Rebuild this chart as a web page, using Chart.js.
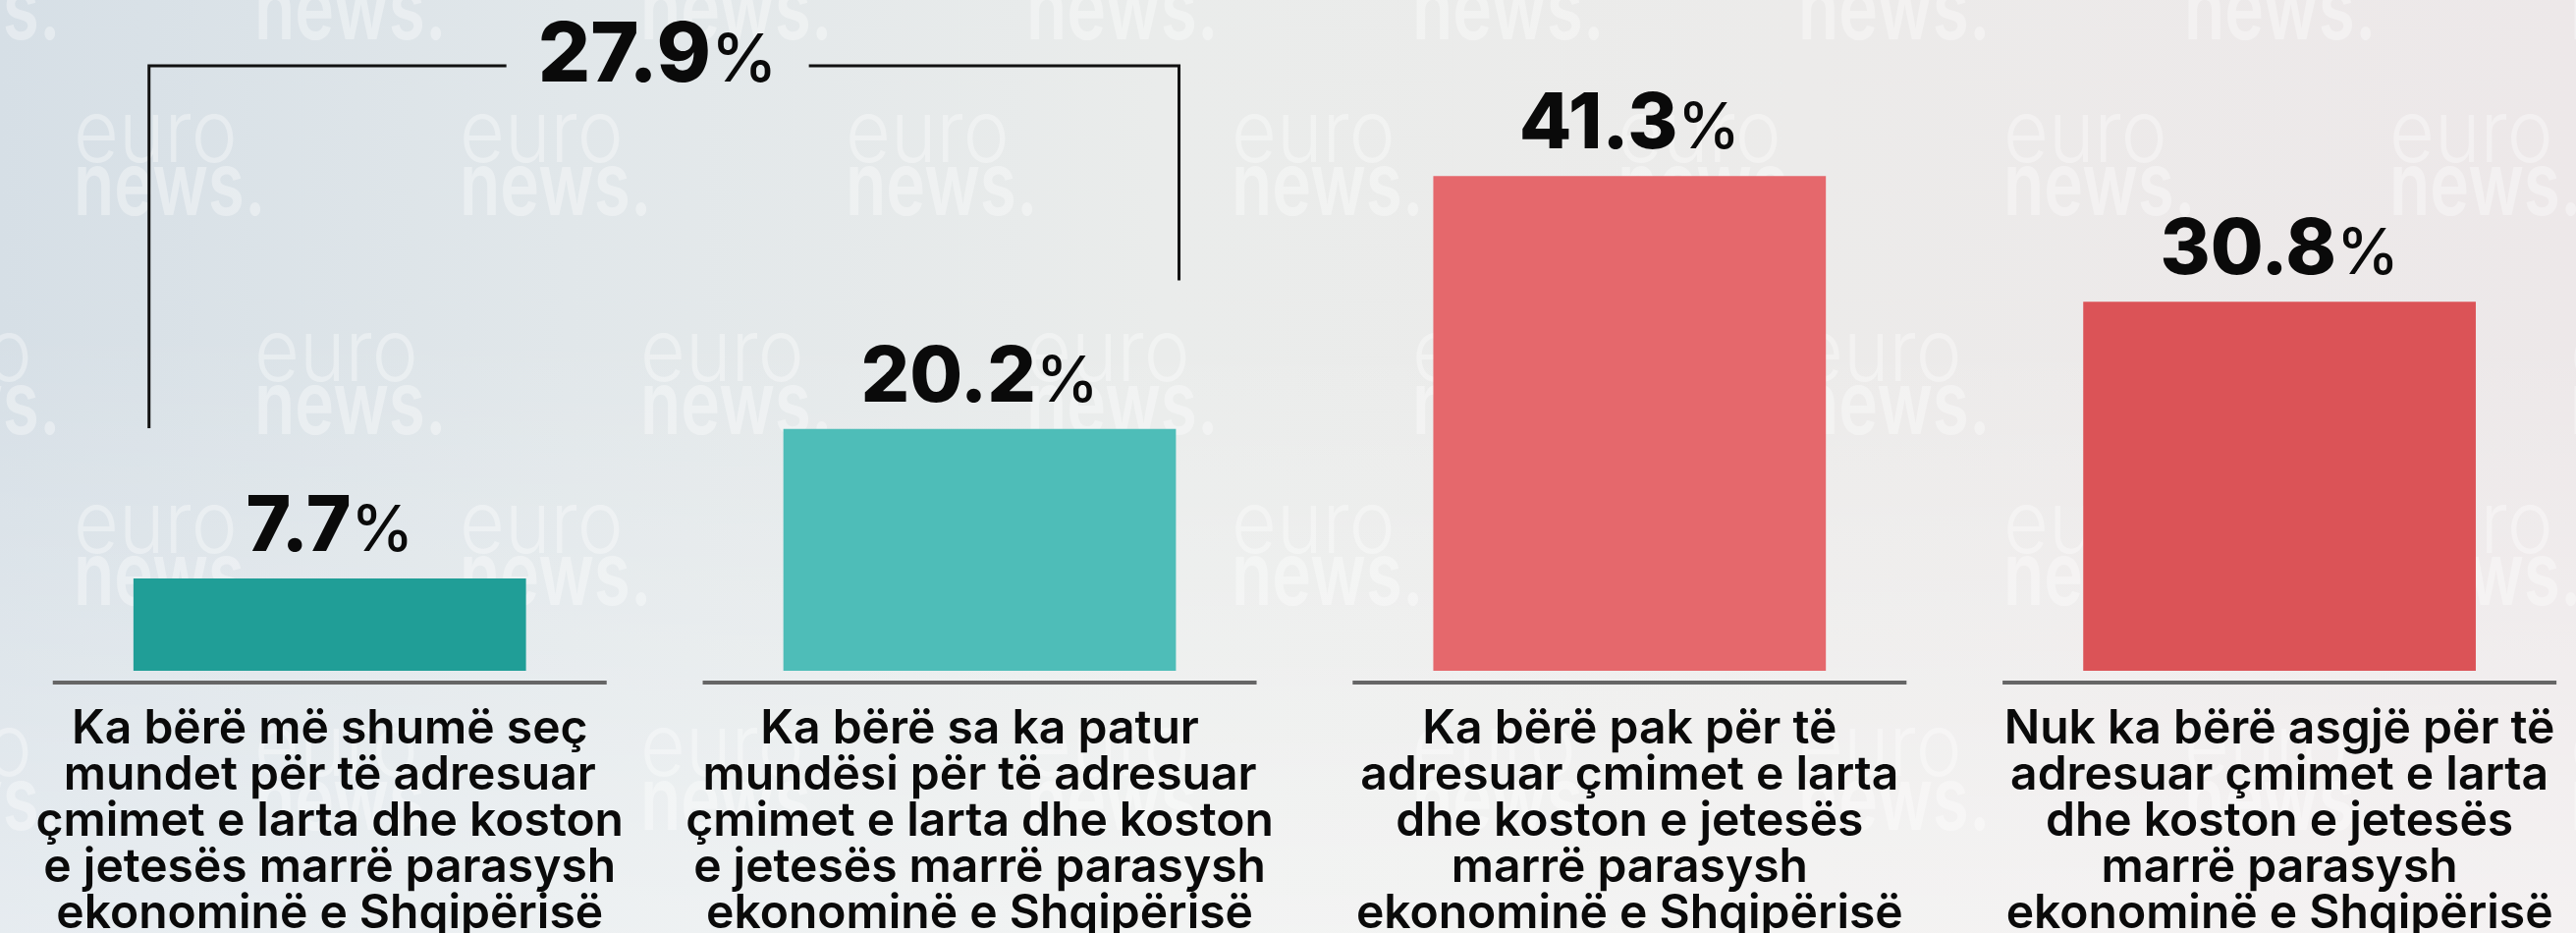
<!DOCTYPE html>
<html lang="sq">
<head>
<meta charset="utf-8">
<title>Çmimet e larta dhe kostoja e jetesës</title>
<script src="https://cdn.jsdelivr.net/npm/chart.js@4/dist/chart.umd.min.js"></script>
<style>
  html, body { margin: 0; padding: 0; overflow: hidden; }
  body {
    width: 2623px; height: 950px;
    background:
      linear-gradient(180deg, rgba(255,255,255,0) 35%, rgba(255,255,255,0.4) 100%),
      linear-gradient(90deg, #d6dfe6 0%, #e1e7ea 22%, #eaeceb 45%, #ecebea 70%, #ede8e9 100%);
  }
  #wrap { width: 2623px; height: 950px; overflow: hidden; }
</style>
</head>
<body>
<div id="wrap"><canvas id="grafico" width="2652" height="950"></canvas></div>
<script>
// ── Data ──────────────────────────────────────
const categories = [
  ['Ka bërë më shumë seç', 'mundet për të adresuar', 'çmimet e larta dhe koston', 'e jetesës marrë parasysh', 'ekonominë e Shqipërisë'],
  ['Ka bërë sa ka patur', 'mundësi për të adresuar', 'çmimet e larta dhe koston', 'e jetesës marrë parasysh', 'ekonominë e Shqipërisë'],
  ['Ka bërë pak për të', 'adresuar çmimet e larta', 'dhe koston e jetesës', 'marrë parasysh', 'ekonominë e Shqipërisë'],
  ['Nuk ka bërë asgjë për të', 'adresuar çmimet e larta', 'dhe koston e jetesës', 'marrë parasysh', 'ekonominë e Shqipërisë']
]
const values     = [7.7, 20.2, 41.3, 30.8]
const barColors  = ['#209e97', '#4ebdb8', '#e5686c', '#db5357']
// bracket groups the first two answers
const groupIdx   = [0, 1]

const FONT = "'Inter', 'Noto Sans', sans-serif"

// ── Faint channel watermark behind the chart ──
const watermark = {
  id: 'watermark',
  beforeDraw(chart) {
    const { ctx } = chart
    // [euro baseline, news baseline, first column x]
    const rows = [[-14, 40, 259], [165, 219, 75], [388, 442, 259], [563, 616, 75], [790, 845, 259]]
    ctx.save()
    ctx.fillStyle = 'rgba(255,255,255,0.36)'
    ctx.textBaseline = 'alphabetic'
    rows.forEach(([yEuro, yNews, x0]) => {
      for (let x = x0 - 393; x < 2700; x += 393) {
        ctx.save()
        ctx.translate(x, yEuro)
        ctx.scale(0.9, 1)
        ctx.font = `300 88px ${FONT}`
        ctx.fillText('euro', 0, 0)
        ctx.restore()
        ctx.save()
        ctx.translate(x, yNews)
        ctx.scale(0.75, 1)
        ctx.font = `600 90px ${FONT}`
        ctx.fillText('news.', 0, 0)
        ctx.restore()
      }
    })
    ctx.restore()
  }
}

// ── Value labels: number bold + smaller % ─────
function drawPercent(ctx, text, cx, baseline, bigSize, smallSize) {
  ctx.save()
  ctx.fillStyle = '#0a0a0a'
  ctx.textBaseline = 'alphabetic'
  ctx.textAlign = 'left'
  ctx.font = `800 ${bigSize}px ${FONT}`
  const wNum = ctx.measureText(text).width
  ctx.font = `500 ${smallSize}px ${FONT}`
  const wPct = ctx.measureText('%').width
  const x0 = cx - (wNum + wPct) / 2
  ctx.font = `800 ${bigSize}px ${FONT}`
  ctx.fillText(text, x0, baseline)
  ctx.font = `500 ${smallSize}px ${FONT}`
  ctx.fillText('%', x0 + wNum, baseline)
  ctx.restore()
}

const valueLabels = {
  id: 'valueLabels',
  afterDatasetsDraw(chart) {
    const { ctx } = chart
    chart.getDatasetMeta(0).data.forEach((bar, i) => {
      drawPercent(ctx, values[i].toFixed(1), bar.x, bar.y - 28, 78, 64)
    })
  }
}

// ── Gray underline under each bar ─────────────
const baseLines = {
  id: 'baseLines',
  afterDatasetsDraw(chart) {
    const { ctx, chartArea, scales: { x } } = chart
    ctx.save()
    ctx.strokeStyle = '#666666'
    ctx.lineWidth = 4
    categories.forEach((c, i) => {
      const cx = x.getPixelForValue(i)
      ctx.beginPath()
      ctx.moveTo(cx - 282, chartArea.bottom + 12)
      ctx.lineTo(cx + 282, chartArea.bottom + 12)
      ctx.stroke()
    })
    ctx.restore()
  }
}

// ── Bracket with the combined share ───────────
const bracket = {
  id: 'bracket',
  afterDatasetsDraw(chart) {
    const { ctx, scales: { x, y } } = chart
    const xa = x.getPixelForValue(groupIdx[0]) - 184
    const xb = x.getPixelForValue(groupIdx[1]) + 203
    const yTop = y.getPixelForValue(50.5)
    const yLeft = y.getPixelForValue(20.25)
    const yRight = y.getPixelForValue(32.6)
    const mid = (x.getPixelForValue(groupIdx[0]) + x.getPixelForValue(groupIdx[1])) / 2 + 3
    const half = 154
    const total = groupIdx.reduce((s, i) => s + values[i], 0)

    ctx.save()
    ctx.strokeStyle = '#111111'
    ctx.lineWidth = 3
    ctx.beginPath()
    ctx.moveTo(xa, yLeft)
    ctx.lineTo(xa, yTop)
    ctx.lineTo(mid - half, yTop)
    ctx.moveTo(mid + half, yTop)
    ctx.lineTo(xb, yTop)
    ctx.lineTo(xb, yRight)
    ctx.stroke()
    ctx.restore()

    drawPercent(ctx, total.toFixed(1), mid, yTop + 16, 84, 68)
  }
}

// ── Chart ─────────────────────────────────────
const ctx = document.getElementById('grafico').getContext('2d')

new Chart(ctx, {
  type: 'bar',
  data: {
    labels: categories,
    datasets: [{
      data: values,
      backgroundColor: barColors,
      borderWidth: 0,
      categoryPercentage: 0.604,
      barPercentage: 1
    }]
  },
  options: {
    responsive: false,
    animation: false,
    layout: { padding: { left: 4, right: 0, top: 0, bottom: 0 } },
    plugins: { legend: { display: false }, tooltip: { enabled: false } },
    scales: {
      y: { display: false, min: 0, max: 56 },
      x: {
        afterFit: (scale) => { scale.height = 267 },
        grid: { display: false, drawTicks: false },
        border: { display: false },
        ticks: {
          color: '#0a0a0a',
          padding: 36,
          maxRotation: 0,
          autoSkip: false,
          font: { family: FONT, size: 48, weight: '600', lineHeight: 47 / 48 }
        }
      }
    }
  },
  plugins: [watermark, baseLines, valueLabels, bracket]
})
</script>
</body>
</html>
